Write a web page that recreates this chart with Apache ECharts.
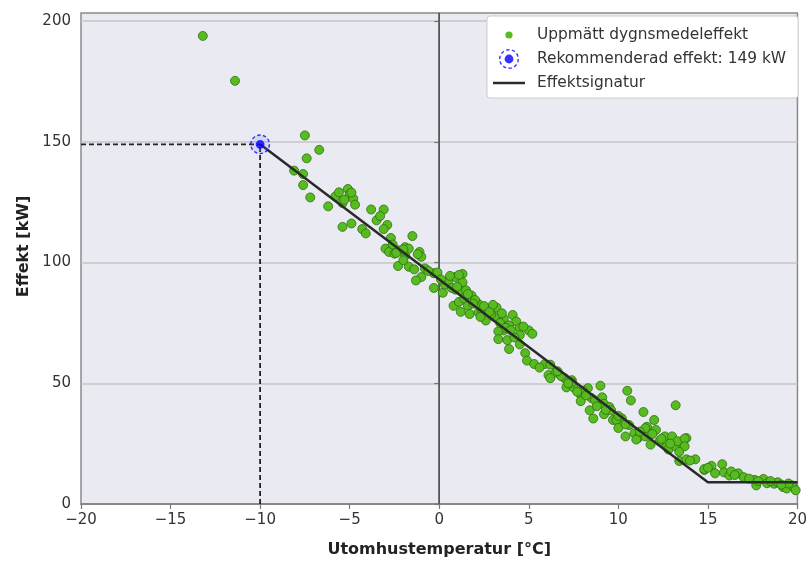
<!DOCTYPE html>
<html>
<head>
<meta charset="utf-8">
<script src="https://cdn.jsdelivr.net/npm/echarts@6/dist/echarts.min.js"></script>
<style>html,body{margin:0;padding:0;background:#fff;}#c{width:810px;height:563px;}</style>
</head>
<body>
<div id="c"></div>
<script>
// ---- data ----
const temp = [
 -13.2,-11.4,-7.5,-6.7,-7.4,-8.1,-7.6,-7.6,-7.2,-6.2,
 -5.8,-5.6,-5.1,-5.0,-5.4,-4.8,-4.7,-5.4,-4.9,-4.3,
 -4.1,-3.8,-3.1,-3.5,-3.3,-2.9,-3.1,-2.7,-3.0,-2.8,
 -2.5,-2.3,-1.9,-1.5,-1.9,-1.7,-1.1,-1.0,-2.3,-1.7,
 -1.4,-0.8,-1.0,-1.3,-0.3,-0.3,-5.3,-4.9,-2.6,-2.0,
 -0.1,0.2,0.3,0.9,1.3,1.3,0.9,1.3,0.8,1.1,
 1.4,1.8,1.2,1.6,1.7,2.2,2.2,2.7,2.6,3.2,
 3.1,3.6,4.1,4.3,3.9,3.6,3.3,3.3,3.8,3.9,
 4.5,5.0,4.5,4.8,4.9,5.3,5.9,6.1,0.5,0.7,
 1.5,2.0,2.4,2.9,3.0,3.5,4.5,4.2,1.1,5.2,
 6.2,6.5,6.2,7.0,7.4,7.1,7.5,8.3,9.0,7.9,
 7.9,8.5,8.7,9.1,8.4,8.6,9.2,9.5,9.2,9.6,
 9.7,10.2,10.5,10.7,11.4,10.6,10.4,10.9,11.1,11.6,
 12.0,11.5,12.1,11.8,12.3,12.6,12.7,13.0,13.2,7.4,
 9.9,11.0,11.5,12.8,13.2,13.6,13.8,6.8,8.0,10.0,
 13.0,13.3,13.7,13.7,13.4,13.4,13.8,14.3,14.8,15.2,
 15.4,15.8,15.9,16.2,16.7,17.0,17.6,17.7,18.1,18.3,
 18.7,19.2,19.4,19.7,19.9,14.8,16.3,17.3,18.9,19.5,
 -2.4,-2.0,-1.2,-0.6,0.1,0.6,1.0,1.6,1.9,2.5,
 2.8,3.4,3.7,4.0,4.7,2.3,5.6,6.6,7.2,7.7,
 8.2,8.8,9.3,10.0,10.4,11.2,11.9,12.4,12.9,14.0,
 15.0,16.5,17.8,18.5,19.1
];
const effekt = [
 193.9,175.3,152.7,146.7,143.2,138.1,136.7,132.1,127.0,123.3,
 127.4,129.1,130.5,128.3,124.7,126.5,124.0,114.8,116.2,113.9,
 112.1,122.0,122.0,117.5,119.3,115.6,113.9,110.2,105.8,104.4,
 103.7,105.1,106.4,111.0,103.0,105.8,104.4,102.4,98.6,98.3,
 97.2,97.6,94.0,92.6,95.6,89.5,126.0,129.0,107.5,101.0,
 95.9,87.5,90.9,94.0,95.3,91.8,88.8,88.2,82.1,83.7,
 85.1,86.4,79.6,82.1,78.7,82.8,79.4,80.7,76.0,81.4,
 77.4,76.7,78.3,75.6,74.0,71.9,71.5,68.3,67.9,64.2,
 72.9,71.9,66.1,62.5,59.4,58.0,58.0,53.4,92.5,89.5,
 88.5,84.5,80.0,78.5,82.5,79.0,70.0,69.0,94.9,70.5,
 57.7,54.4,52.1,52.1,51.3,48.3,48.3,48.0,49.0,45.3,
 42.6,43.9,42.9,44.2,38.8,35.4,41.5,40.2,37.2,38.8,
 34.8,35.4,46.9,42.9,38.1,32.7,28.0,29.3,27.3,32.0,
 34.8,28.0,30.7,24.6,26.0,28.0,23.7,26.0,40.9,50.3,
 34.8,26.7,31.4,22.6,23.9,26.0,27.3,53.0,47.0,31.5,
 28.0,26.0,27.1,23.9,21.6,17.8,18.5,18.5,14.1,15.8,
 12.7,16.5,13.1,11.8,12.7,11.1,10.0,7.7,10.4,8.6,
 8.4,7.0,6.4,7.7,5.7,14.5,13.5,10.5,9.0,8.5,
 104.0,105.5,103.5,96.5,93.0,94.5,90.0,87.0,83.0,82.0,
 79.5,75.0,73.0,72.0,73.5,77.5,56.5,55.0,50.0,46.5,
 45.0,40.5,39.0,36.5,33.0,30.0,29.0,27.0,25.0,18.0,
 15.0,12.0,9.5,9.5,8.0
];
const sigTemp = [-10, 15, 20];
const sigEffekt = [149, 9, 9];
const recTemp = -10;
const recEffekt = 149;
const xTicks = [-20, -15, -10, -5, 0, 5, 10, 15, 20];
const yTicks = [0, 50, 100, 150, 200];
const xMin = -20, xMax = 20, yMin = 0, yMax = 203.4;

const names = {
  obs: 'Uppmätt dygnsmedeleffekt',
  rec: 'Rekommenderad effekt: ' + recEffekt + ' kW',
  sig: 'Effektsignatur'
};

// ---- icon helpers (style only) ----
function ringPath(cx, cy, corners) {
  const R = 10, r = 8.6, n = 10;
  let d = '';
  const f = v => v.toFixed(3);
  for (let i = 0; i < n; i++) {
    const a0 = (i / n) * 2 * Math.PI, a1 = a0 + 0.58 * (2 * Math.PI / n);
    d += 'M' + f(cx + R * Math.cos(a0)) + ' ' + f(cy + R * Math.sin(a0)) +
      ' A' + R + ' ' + R + ' 0 0 1 ' + f(cx + R * Math.cos(a1)) + ' ' + f(cy + R * Math.sin(a1)) +
      ' L' + f(cx + r * Math.cos(a1)) + ' ' + f(cy + r * Math.sin(a1)) +
      ' A' + r + ' ' + r + ' 0 0 0 ' + f(cx + r * Math.cos(a0)) + ' ' + f(cy + r * Math.sin(a0)) + ' Z ';
  }
  const dr = 4.4;
  d += 'M' + f(cx + dr) + ' ' + f(cy) + ' A' + dr + ' ' + dr + ' 0 1 1 ' + f(cx - dr) + ' ' + f(cy) +
    ' A' + dr + ' ' + dr + ' 0 1 1 ' + f(cx + dr) + ' ' + f(cy) + ' Z';
  if (corners) d += ' M0 0 L0 0 Z M32 20 L32 20 Z';
  return 'path://' + d;
}
function dotPath(cx, cy, dr) {
  return 'path://M' + (cx + dr) + ' ' + cy + ' A' + dr + ' ' + dr + ' 0 1 1 ' + (cx - dr) + ' ' + cy +
    ' A' + dr + ' ' + dr + ' 0 1 1 ' + (cx + dr) + ' ' + cy + ' Z M0 0 L0 0 Z M32 20 L32 20 Z';
}
const linePath = 'path://M0 8.8 L32 8.8 L32 11.2 L0 11.2 Z M0 0 L0 0 Z M32 20 L32 20 Z';

const font = 'DejaVu Sans';
const chart = echarts.init(document.getElementById('c'), null, {renderer: 'canvas'});
chart.setOption({
  animation: false,
  backgroundColor: '#ffffff',
  grid: {
    left: 81, right: 9, top: 13, bottom: 49,
    show: true, backgroundColor: '#eaeaf2', borderColor: '#8a8a8a', borderWidth: 1.5
  },
  xAxis: {
    type: 'value', min: xMin, max: xMax, interval: 5,
    name: 'Utomhustemperatur [°C]', nameLocation: 'middle', nameGap: 38,
    nameTextStyle: {fontFamily: font, fontSize: 16, fontWeight: 'bold', color: '#222'},
    axisLine: {show: true, lineStyle: {color: '#777', width: 1.5}},
    axisTick: {show: true, length: 5, lineStyle: {color: '#777', width: 1.2}, customValues: xTicks},
    axisLabel: {fontFamily: font, fontSize: 15, color: '#333', margin: 9, customValues: xTicks,
      formatter: v => (v < 0 ? '\u2212' + Math.abs(v) : String(v))},
    splitLine: {show: false}
  },
  yAxis: {
    type: 'value', min: yMin, max: yMax, interval: 50,
    name: 'Effekt [kW]', nameLocation: 'middle', nameGap: 46, nameRotate: 90,
    nameTextStyle: {fontFamily: font, fontSize: 16, fontWeight: 'bold', color: '#222', padding: [0, 0, 0, 24]},
    axisLine: {show: true, lineStyle: {color: '#777', width: 1.5}},
    axisTick: {show: true, length: 5, lineStyle: {color: '#777', width: 1.2}, customValues: yTicks},
    axisLabel: {fontFamily: font, fontSize: 15, color: '#333', margin: 10, customValues: yTicks},
    splitLine: {show: true, lineStyle: {color: '#c4c4c8', width: 1.5}}
  },
  legend: {
    orient: 'vertical', left: 487, top: 16,
    backgroundColor: '#ffffff', borderColor: '#cccccc', borderWidth: 1, borderRadius: 3,
    padding: [9, 12, 5, 6], itemWidth: 32, itemHeight: 20, itemGap: 4,
    textStyle: {fontFamily: font, fontSize: 15.4, color: '#333', padding: [0, 0, 0, 7]},
    data: [
      {name: names.obs, icon: dotPath(16, 10, 3.6), itemStyle: {borderWidth: 0}},
      {name: names.rec, icon: ringPath(16, 10, true)},
      {name: names.sig, icon: linePath, itemStyle: {color: '#2a2a2a', borderWidth: 0}}
    ]
  },
  series: [
    {
      type: 'line', silent: true, z: 1, symbol: 'none',
      data: [[0, yMin], [0, yMax]],
      lineStyle: {color: '#555', width: 1.5}
    },
    {
      name: names.obs, type: 'scatter', z: 3, symbolSize: 9,
      data: temp.map((t, i) => [t, effekt[i]]),
      itemStyle: {color: '#58bb1f', borderColor: '#2d6f10', borderWidth: 0.8, opacity: 1}
    },
    {
      name: names.sig, type: 'line', z: 4, symbol: 'none',
      data: sigTemp.map((t, i) => [t, sigEffekt[i]]),
      itemStyle: {color: '#2a2a2a'},
      lineStyle: {color: '#2a2a2a', width: 2.5}
    },
    {
      type: 'line', silent: true, z: 4, symbol: 'none',
      data: [[xMin, recEffekt], [recTemp, recEffekt]],
      lineStyle: {color: '#222', width: 1.8, type: [5, 3]}
    },
    {
      type: 'line', silent: true, z: 4, symbol: 'none',
      data: [[recTemp, yMin], [recTemp, recEffekt]],
      lineStyle: {color: '#222', width: 1.8, type: [5, 3]}
    },
    {
      type: 'scatter', silent: true, z: 5, symbolSize: 19,
      data: [[recTemp, recEffekt]],
      itemStyle: {color: 'rgba(120,120,255,0.22)'}
    },
    {
      name: names.rec, type: 'scatter', z: 6, symbolSize: 20,
      symbol: ringPath(0, 0, false),
      data: [[recTemp, recEffekt]],
      itemStyle: {color: '#0000ff'}
    }
  ]
});
</script>
</body>
</html>
